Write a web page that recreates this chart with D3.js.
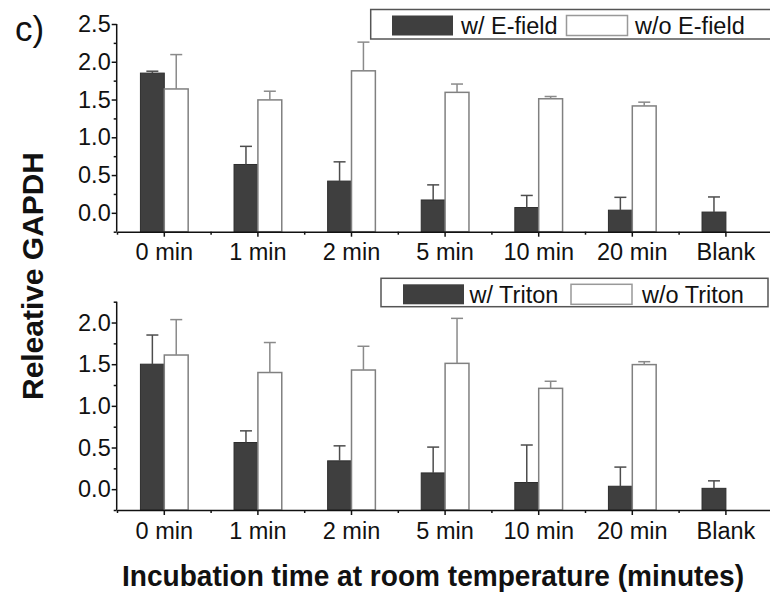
<!DOCTYPE html>
<html>
<head>
<meta charset="utf-8">
<script src="https://cdn.jsdelivr.net/npm/d3@7"></script>
<style>
  body { margin: 0; background: #fff; }
  text { font-family: "Liberation Sans", Arial, sans-serif; fill: #111; }
</style>
</head>
<body>
<div class="chart"></div>
<script>
// categories and values
const categories = ["0 min", "1 min", "2 min", "5 min", "10 min", "20 min", "Blank"];

const withField = [1.85, 0.64, 0.42, 0.17, 0.07, 0.035, 0.01];
const withFieldErr = [0.025, 0.24, 0.255, 0.2, 0.16, 0.17, 0.2];
const withoutField = [1.64, 1.495, 1.88, 1.595, 1.51, 1.415, null];
const withoutFieldErr = [0.455, 0.115, 0.38, 0.11, 0.03, 0.05, null];

const withTriton = [1.50, 0.56, 0.34, 0.195, 0.08, 0.035, 0.01];
const withTritonErr = [0.35, 0.14, 0.18, 0.31, 0.45, 0.23, 0.09];
const withoutTriton = [1.61, 1.40, 1.43, 1.51, 1.21, 1.495, null];
const withoutTritonErr = [0.425, 0.36, 0.285, 0.54, 0.085, 0.035, null];

const topTicks = [0, 0.5, 1.0, 1.5, 2.0, 2.5];
const bottomTicks = [0, 0.5, 1.0, 1.5, 2.0];

const width = 770, height = 593;
const fontSize = 23.5;

const svg = d3.select(".chart").append("svg")
    .attr("width", width)
    .attr("height", height);

// shared x scale: one band per category
const x = d3.scaleBand()
    .domain(categories)
    .range([117.5, 117.5 + categories.length * 93.6])
    .padding(0);

const dark = "#3f3f3f";

function panel(opts) {
    const y = d3.scaleLinear().domain(opts.domain).range(opts.range);
    const g = svg.append("g");
    const bw = x.bandwidth() * 0.255;
    const base = y(opts.domain[0]);

    const rows = categories.map((c, i) => ({
        c, on: opts.on[i], onErr: opts.onErr[i], off: opts.off[i], offErr: opts.offErr[i]
    }));

    // dark bars
    g.selectAll(".bar-on")
        .data(rows)
        .join("rect")
        .attr("class", "bar-on")
        .attr("x", d => x(d.c) + x.bandwidth() / 2 - bw)
        .attr("y", d => y(d.on))
        .attr("width", bw)
        .attr("height", d => base - y(d.on))
        .attr("fill", dark)
        .attr("stroke", "#2e2e2e")
        .attr("stroke-width", 1);

    // white bars
    const offRows = rows.filter(d => d.off != null);
    g.selectAll(".bar-off")
        .data(offRows)
        .join("rect")
        .attr("class", "bar-off")
        .attr("x", d => x(d.c) + x.bandwidth() / 2)
        .attr("y", d => y(d.off))
        .attr("width", bw)
        .attr("height", d => base - y(d.off))
        .attr("fill", "#fff")
        .attr("stroke", "#808080")
        .attr("stroke-width", 1.5);

    // error bars (upper only)
    const err = (sel, cx, val, e, color) => {
        sel.append("line")
            .attr("x1", cx).attr("x2", cx)
            .attr("y1", y(val)).attr("y2", y(val + e))
            .attr("stroke", color).attr("stroke-width", 1.5);
        sel.append("line")
            .attr("x1", cx - 6).attr("x2", cx + 6)
            .attr("y1", y(val + e)).attr("y2", y(val + e))
            .attr("stroke", color).attr("stroke-width", 1.5);
    };
    rows.forEach(d => {
        const c = x(d.c) + x.bandwidth() / 2;
        err(g, c - bw / 2, d.on, d.onErr, "#4d4d4d");
        if (d.off != null) err(g, c + bw / 2, d.off, d.offErr, "#8a8a8a");
    });

    // y axis: major + minor ticks
    const minor = d3.range(opts.domain[0], opts.domain[1] + 0.001, 0.25)
        .filter(v => Math.abs(v * 2 - Math.round(v * 2)) > 0.01);
    g.append("g")
        .attr("transform", "translate(116.7,0)")
        .call(d3.axisLeft(y).tickValues(minor).tickSize(3).tickFormat(""))
        .call(a => a.select(".domain").remove())
        .call(a => a.selectAll("line").attr("stroke", "#111").attr("stroke-width", 1.5));
    g.append("g")
        .attr("transform", "translate(116.7,0)")
        .call(d3.axisLeft(y).tickValues(opts.ticks).tickSize(5).tickPadding(1)
            .tickFormat(d3.format(".1f")))
        .call(a => a.select(".domain")
            .attr("d", `M0,${y(opts.domain[1])}V${base}`)
            .attr("stroke", "#111").attr("stroke-width", 1.5))
        .call(a => a.selectAll("line").attr("stroke", "#111").attr("stroke-width", 1.5))
        .call(a => a.selectAll("text")
            .attr("font-size", fontSize)
            .attr("font-family", "Liberation Sans, Arial, sans-serif")
            .attr("fill", "#111"));

    // x axis
    g.append("g")
        .attr("transform", `translate(0,${base})`)
        .call(d3.axisBottom(x).tickSize(5).tickPadding(7).tickSizeOuter(0))
        .call(a => a.select(".domain").attr("stroke", "#111").attr("stroke-width", 1.5))
        .call(a => a.selectAll("line").attr("stroke", "#111").attr("stroke-width", 1.5))
        .call(a => a.selectAll("text")
            .attr("font-size", fontSize)
            .attr("font-family", "Liberation Sans, Arial, sans-serif")
            .attr("fill", "#111"));
    g.append("g")
        .selectAll("line")
        .data(categories)
        .join("line")
        .attr("x1", d => x(d)).attr("x2", d => x(d))
        .attr("y1", base).attr("y2", base + 3)
        .attr("stroke", "#111").attr("stroke-width", 1.5);

    // legend
    const L = opts.legend;
    const lg = svg.append("g");
    lg.append("rect")
        .attr("x", L.x).attr("y", L.y)
        .attr("width", L.w).attr("height", L.h)
        .attr("fill", "#fff").attr("stroke", "#555").attr("stroke-width", 1.5);
    lg.append("rect")
        .attr("x", L.sw1).attr("y", L.y + 6)
        .attr("width", 61).attr("height", 20)
        .attr("fill", dark);
    lg.append("text")
        .attr("x", L.t1).attr("y", L.y + 24.5)
        .attr("font-size", fontSize)
        .text(L.labels[0]);
    lg.append("rect")
        .attr("x", L.sw2).attr("y", L.y + 6)
        .attr("width", 61).attr("height", 20)
        .attr("fill", "#fff").attr("stroke", "#999").attr("stroke-width", 1.5);
    lg.append("text")
        .attr("x", L.t2).attr("y", L.y + 24.5)
        .attr("font-size", fontSize)
        .text(L.labels[1]);
}

panel({
    domain: [-0.25, 2.5], range: [231.7, 24], ticks: topTicks,
    on: withField, onErr: withFieldErr, off: withoutField, offErr: withoutFieldErr,
    legend: { x: 370.7, y: 9.5, w: 402, h: 29.5, sw1: 392, t1: 461, sw2: 566.5, t2: 635,
              labels: ["w/ E-field", "w/o E-field"] }
});

panel({
    domain: [-0.25, 2.25], range: [510, 301.7], ticks: bottomTicks,
    on: withTriton, onErr: withTritonErr, off: withoutTriton, offErr: withoutTritonErr,
    legend: { x: 381, y: 278.3, w: 387, h: 28.4, sw1: 403, t1: 469.5, sw2: 571, t2: 642,
              labels: ["w/ Triton", "w/o Triton"] }
});

// panel letter and axis titles
svg.append("text")
    .attr("x", 15).attr("y", 41)
    .attr("font-size", 35)
    .text("c)");

svg.append("text")
    .attr("transform", "translate(43,276) rotate(-90)")
    .attr("text-anchor", "middle")
    .attr("font-size", 29)
    .attr("font-weight", "bold")
    .attr("textLength", 248)
    .attr("lengthAdjust", "spacingAndGlyphs")
    .text("Releative GAPDH");

svg.append("text")
    .attr("x", 433).attr("y", 586)
    .attr("text-anchor", "middle")
    .attr("font-size", 29)
    .attr("font-weight", "bold")
    .attr("textLength", 622)
    .attr("lengthAdjust", "spacingAndGlyphs")
    .text("Incubation time at room temperature (minutes)");
</script>
</body>
</html>
